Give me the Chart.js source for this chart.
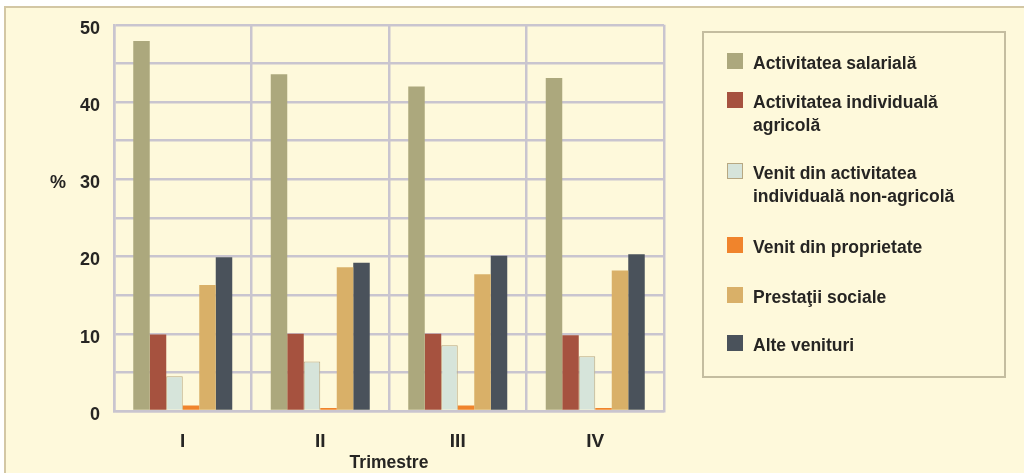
<!DOCTYPE html>
<html lang="ro">
<head>
<meta charset="utf-8">
<title>Structura veniturilor pe trimestre</title>
<script src="https://cdn.jsdelivr.net/npm/chart.js@4/dist/chart.umd.min.js"></script>
<style>
  html, body { margin: 0; padding: 0; background: #ffffff; }
  #wrap { width: 1024px; height: 473px; position: relative; }
  canvas { display: block; }
</style>
</head>
<body>
<div id="wrap"><canvas id="chart" width="1024" height="473"></canvas></div>
<script>
// Trimestre (categorii)
const categories = ['I', 'II', 'III', 'IV'];

// Ponderea surselor de venit, %
const salariala   = [47.9, 43.6, 42.0, 43.1];
const agricola    = [9.9, 10.0, 10.0, 9.8];
const nonAgricola = [4.5, 6.4, 8.5, 7.1];
const proprietate = [0.7, 0.4, 0.7, 0.4];
const prestatii   = [16.3, 18.6, 17.7, 18.2];
const alteVenituri = [19.9, 19.2, 20.1, 20.3];

// Etichetele seriilor (rânduri separate prin \n în legendă)
const seriesNames = [
  'Activitatea salarială',
  'Activitatea individuală\nagricolă',
  'Venit din activitatea\nindividuală non-agricolă',
  'Venit din proprietate',
  'Prestaţii sociale',
  'Alte venituri'
];

// Gradaţiile axei verticale
const yTicks = [0, 10, 20, 30, 40, 50];

const SANS = '"Liberation Sans", Arial, Helvetica, sans-serif';
const CREAM = '#fef9db';
const GRID = '#c9c5cf';
const INK = '#262523';

const seriesValues = [salariala, agricola, nonAgricola, proprietate, prestatii, alteVenituri];
const seriesColors = ['#aca87d', '#a6523f', '#d6e4da', '#f0842c', '#d9b068', '#4a525b'];

// Fundalul panoului și chenarul
const panelPlugin = {
  id: 'panel',
  beforeDraw(chart) {
    const ctx = chart.ctx;
    ctx.save();
    ctx.fillStyle = '#ffffff';
    ctx.fillRect(0, 0, chart.width, chart.height);
    ctx.fillStyle = CREAM;
    ctx.fillRect(5, 7, chart.width - 5, chart.height - 7);
    ctx.strokeStyle = '#d3c7a4';
    ctx.lineWidth = 2;
    ctx.beginPath();
    ctx.moveTo(5, chart.height);
    ctx.lineTo(5, 7);
    ctx.lineTo(chart.width, 7);
    ctx.stroke();
    ctx.restore();
  },
  afterDraw(chart) {
    const ctx = chart.ctx;
    const y = chart.scales.y;
    ctx.save();
    // simbolul unităţii lângă gradaţia 30
    ctx.fillStyle = INK;
    ctx.font = 'bold 18px ' + SANS;
    ctx.textAlign = 'center';
    ctx.textBaseline = 'middle';
    ctx.fillText('%', 58, y.getPixelForValue(30) + 4);
    ctx.restore();
  }
};

// Legenda în chenar, în dreapta graficului
const boxLegendPlugin = {
  id: 'boxLegend',
  afterDraw(chart) {
    const ctx = chart.ctx;
    ctx.save();
    ctx.fillStyle = CREAM;
    ctx.fillRect(703, 32, 302, 345);
    ctx.strokeStyle = '#c4bda0';
    ctx.lineWidth = 2;
    ctx.strokeRect(703, 32, 302, 345);

    const tops = [53, 92, 163, 237, 287, 335];
    const lineGap = 23;
    ctx.font = 'bold 17.5px ' + SANS;
    ctx.textAlign = 'left';
    ctx.textBaseline = 'alphabetic';
    chart.data.datasets.forEach((ds, i) => {
      const top = tops[i];
      ctx.fillStyle = ds.backgroundColor;
      ctx.fillRect(727, top, 16, 16);
      if (ds.borderWidth) {
        ctx.strokeStyle = ds.borderColor;
        ctx.lineWidth = 1;
        ctx.strokeRect(727.5, top + 0.5, 15, 15);
      }
      ctx.fillStyle = INK;
      ds.label.split('\n').forEach((line, k) => {
        ctx.fillText(line, 753, top + 15.5 + k * lineGap);
      });
    });
    ctx.restore();
  }
};

const datasets = seriesNames.map((name, i) => ({
  label: name,
  data: seriesValues[i],
  backgroundColor: seriesColors[i],
  borderColor: i === 2 ? '#b7a882' : seriesColors[i],
  borderWidth: i === 2 ? 1 : 0,
  categoryPercentage: 0.72,
  barPercentage: 1.0
}));

new Chart(document.getElementById('chart'), {
  type: 'bar',
  data: { labels: categories, datasets },
  plugins: [panelPlugin, boxLegendPlugin],
  options: {
    responsive: false,
    animation: false,
    devicePixelRatio: 1,
    layout: { padding: { left: 0, right: 360, top: 23, bottom: 0 } },
    plugins: {
      legend: { display: false },
      title: { display: false },
      tooltip: { enabled: false }
    },
    scales: {
      x: {
        afterFit(scale) { scale.height = 62; },
        grid: { color: GRID, lineWidth: 2.5, drawTicks: false, offset: true },
        border: { display: true, color: GRID, width: 2.5 },
        ticks: {
          color: INK,
          padding: 19,
          font: { family: SANS, size: 19, weight: 'bold' }
        },
        title: {
          display: true,
          text: 'Trimestre',
          color: INK,
          padding: { top: 0, bottom: 1 },
          font: { family: SANS, size: 17.5, weight: 'bold', lineHeight: 1 }
        }
      },
      y: {
        min: 0,
        max: 50,
        afterFit(scale) { scale.width = 114; },
        grid: { color: GRID, lineWidth: 2.5, drawTicks: false },
        border: { display: true, color: GRID, width: 2.5 },
        ticks: {
          stepSize: 5,
          color: INK,
          padding: 14,
          labelOffset: 4,
          font: { family: SANS, size: 18, weight: 'bold' },
          callback: (v) => (yTicks.includes(v) ? String(v) : '')
        }
      }
    }
  }
});
</script>
</body>
</html>
